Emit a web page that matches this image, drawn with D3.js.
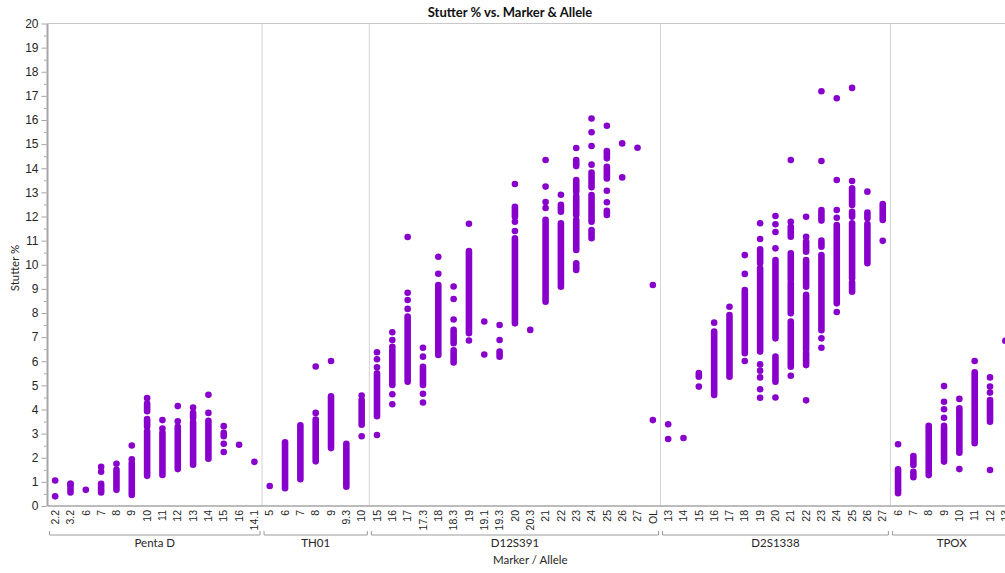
<!DOCTYPE html>
<html>
<head>
<meta charset="utf-8">
<script src="https://cdn.jsdelivr.net/npm/d3@7"></script>
<style>
  html, body { margin: 0; padding: 0; background: #fff; overflow: hidden; }
  svg { display: block; font-family: "Lato", "Liberation Sans", sans-serif; }
</style>
</head>
<body>
<svg id="chart" width="1005" height="573"></svg>
<script>
// ---------------- DATA ----------------
const markers = ["Penta D", "TH01", "D12S391", "D2S1338", "TPOX"];

const pentaDAlleles = ["2.2","3.2","6","7","8","9","10","11","12","13","14","15","16","14.1"];
const pentaDDots = [[1.06,0.40],[0.92],[0.67],[1.62,1.42],[1.75],[2.51,1.94],[4.47],[3.56,3.21],[4.14,3.51],[4.08],[4.61,3.86],[3.31,2.58,2.24],[2.54],[1.83]];
const pentaDRuns = [[],[[0.56,0.92]],[],[[0.56,0.92]],[[0.67,1.50]],[[0.46,1.78]],[[3.93,4.25],[3.30,3.60],[1.25,3.10]],[[1.29,3.03]],[[1.53,3.28]],[[3.65,3.86],[1.71,3.47]],[[1.96,3.53]],[[2.89,3.03]],[],[]];

const th01Alleles = ["5","6","7","8","9","9.3","10"];
const th01Dots = [[0.83],[],[],[5.78,3.86],[6.01],[],[4.58,2.89]];
const th01Runs = [[],[[0.74,2.64]],[[1.11,3.35]],[[1.85,3.58]],[[2.40,4.55]],[[0.80,2.58]],[[3.37,4.39]]];

const d12Alleles = ["15","16","17","17.3","18","18.3","19","19.1","19.3","20","20.3","21","22","23","24","25","26","27","OL"];
const d12Dots = [[6.37,6.08,5.75,2.94],[7.20,6.88,6.60,4.63,4.22],[11.15,8.84,8.54,8.17],[6.56,6.19,4.65,4.29],[10.33,9.63],[9.10,8.58,7.73],[11.70,6.86],[7.65,6.28],[7.50,6.88],[13.35,11.78,11.40],[7.30],[14.34,13.24,12.60,12.35],[12.90],[14.84],[16.06,15.49,14.92,14.15],[15.76,13.07,12.59],[15.03,13.62],[14.85],[9.16,3.56]];
const d12Runs = [[[3.72,5.50]],[[5.02,6.47]],[[5.15,7.85]],[[5.02,5.77]],[[6.26,9.16]],[[6.75,7.30],[5.95,6.45]],[[7.16,10.57]],[],[[6.19,6.40]],[[11.99,12.40],[7.57,11.10]],[],[[8.47,11.86]],[[12.20,12.48],[9.09,11.72]],[[14.09,14.34],[13.03,13.51],[12.06,12.85],[10.61,11.86],[9.78,10.06]],[[13.21,13.82],[11.78,12.89],[11.10,11.44]],[[14.41,14.71],[13.58,14.06],[12.06,12.24]],[],[],[]];

const d2Alleles = ["13","14","15","16","17","18","19","20","21","22","23","24","25","26","27"];
const d2Dots = [[3.39,2.78],[2.82],[4.95],[7.60],[8.26],[10.40,9.62,6.01],[11.72,11.07,5.87,5.61,5.33,4.84,4.49],[12.02,11.68,11.36,10.68,4.50],[14.34,11.78,5.40],[11.99,11.16,4.38],[17.19,14.30,6.95,6.56],[16.90,13.51,12.27,11.95,8.04],[17.33,13.47],[13.03],[10.99]];
const d2Runs = [[],[],[[5.36,5.51]],[[4.60,7.23]],[[5.36,7.92]],[[6.33,8.95]],[[10.06,10.64],[6.40,9.85]],[[6.95,10.20],[5.15,6.19]],[[11.16,11.57],[9.37,10.47],[7.99,9.23],[5.77,7.65]],[[10.54,10.96],[9.09,10.20],[6.47,8.75],[5.84,6.33]],[[11.83,12.27],[10.75,11.00],[7.29,10.40]],[[8.40,11.65]],[[12.48,13.17],[11.99,12.20],[9.44,11.72],[8.88,9.26]],[[11.93,12.16],[10.06,11.69]],[[11.86,12.52]]];

const tpoxAlleles = ["6","7","8","9","10","11","12","13"];
const tpoxDots = [[2.56],[],[],[4.97,4.32,4.01,3.66],[4.44,1.53],[6.01],[5.33,4.95,4.70,1.49],[6.85]];
const tpoxRuns = [[[0.53,1.52]],[[1.70,2.07],[1.19,1.42]],[[1.28,3.32]],[[1.84,3.32]],[[2.21,4.05]],[[2.60,5.54]],[[3.49,4.39]],[]];

const yTicks = d3.range(0, 21);
const yMinorTicks = d3.range(0.5, 20, 1);

// ---------------- BUILD ----------------
const groups = [
  {name: markers[0], alleles: pentaDAlleles, dots: pentaDDots, runs: pentaDRuns},
  {name: markers[1], alleles: th01Alleles, dots: th01Dots, runs: th01Runs},
  {name: markers[2], alleles: d12Alleles, dots: d12Dots, runs: d12Runs},
  {name: markers[3], alleles: d2Alleles, dots: d2Dots, runs: d2Runs},
  {name: markers[4], alleles: tpoxAlleles, dots: tpoxDots, runs: tpoxRuns}
];
const keys = [];
const points = [];
const segs = [];
groups.forEach(g => {
  g.alleles.forEach((a, i) => {
    const k = g.name + "|" + a;
    keys.push(k);
    g.dots[i].forEach(v => points.push({k, v}));
    g.runs[i].forEach(r => segs.push({k, lo: r[0], hi: r[1]}));
  });
});

const svg = d3.select("#chart");
const pTop = 23.5, pBottom = 506, pLeft = 47.5, pRight = 1013;
const x = d3.scaleBand().domain(keys).range([pLeft, pRight]).padding(0);
const y = d3.scaleLinear().domain([0, 20]).range([pBottom, pTop]);
const color = "#8800cc";
const rad = 3.3;
const axisColor = "#a6a6a6";
const textColor = "#262626";

// separators
const bounds = groups.slice(1).map(g => x(g.name + "|" + g.alleles[0]));
svg.append("g").selectAll("line").data(bounds).join("line")
  .attr("x1", d => d).attr("x2", d => d).attr("y1", pTop).attr("y2", pBottom)
  .attr("stroke", "#d3d3d3").attr("stroke-width", 1);

// top border
svg.append("line").attr("x1", pLeft).attr("x2", pRight).attr("y1", pTop).attr("y2", pTop)
  .attr("stroke", "#c8c8c8");

// marks
const marks = svg.append("g");
marks.selectAll("line").data(segs).join("line")
  .attr("x1", d => x(d.k) + x.bandwidth() / 2).attr("x2", d => x(d.k) + x.bandwidth() / 2)
  .attr("y1", d => y(d.lo)).attr("y2", d => y(d.hi))
  .attr("stroke", color).attr("stroke-width", 2 * rad).attr("stroke-linecap", "round");
marks.selectAll("circle").data(points).join("circle")
  .attr("cx", d => x(d.k) + x.bandwidth() / 2).attr("cy", d => y(d.v)).attr("r", rad)
  .attr("fill", color);

// y axis
const yAxis = svg.append("g").attr("transform", `translate(${pLeft - 1},0)`)
  .call(d3.axisLeft(y).tickValues(yTicks).tickSize(5).tickPadding(3).tickFormat(d3.format("d")));
yAxis.select(".domain").remove();
yAxis.selectAll("line").attr("stroke", axisColor);
yAxis.selectAll("text").attr("fill", textColor).style("font-size", "12px");
const yMinor = svg.append("g").attr("transform", `translate(${pLeft - 1},0)`)
  .call(d3.axisLeft(y).tickValues(yMinorTicks).tickSize(2.5).tickFormat(""));
yMinor.select(".domain").remove();
yMinor.selectAll("line").attr("stroke", axisColor);
svg.append("line").attr("x1", pLeft).attr("x2", pLeft).attr("y1", pTop).attr("y2", pBottom)
  .attr("stroke", axisColor).attr("stroke-width", 2);

// x axis
const xAxis = svg.append("g").attr("transform", `translate(0,${pBottom})`)
  .call(d3.axisBottom(x).tickSize(0).tickFormat(d => d.split("|")[1]));
xAxis.select(".domain").remove();
xAxis.selectAll("text")
  .attr("transform", "rotate(-90)")
  .attr("x", -4).attr("y", 0).attr("dy", "0.35em")
  .attr("text-anchor", "end")
  .attr("fill", textColor).style("font-size", "10.5px");
svg.append("line").attr("x1", pLeft).attr("x2", pRight).attr("y1", pBottom).attr("y2", pBottom)
  .attr("stroke", axisColor).attr("stroke-width", 1.5);

// group brackets
const gb = svg.append("g");
groups.forEach(g => {
  const x0 = x(g.name + "|" + g.alleles[0]) + 2;
  const x1 = x(g.name + "|" + g.alleles[g.alleles.length - 1]) + x.bandwidth() - 2;
  gb.append("path").attr("d", `M${x0},531V535H${x1}V531`)
    .attr("fill", "none").attr("stroke", "#9a9a9a");
  gb.append("text").attr("x", (x0 + x1) / 2).attr("y", 547)
    .attr("text-anchor", "middle").attr("fill", textColor).style("font-size", "11.5px")
    .text(g.name);
});

// titles
svg.append("text").attr("x", 510).attr("y", 17).attr("text-anchor", "middle")
  .style("font-size", "13px").style("font-weight", "bold").attr("fill", "#111")
  .text("Stutter % vs. Marker & Allele");
svg.append("text").attr("x", (pLeft + pRight) / 2).attr("y", 564).attr("text-anchor", "middle")
  .style("font-size", "11.5px").attr("fill", textColor).text("Marker / Allele");
svg.append("text").attr("transform", "translate(19,268) rotate(-90)").attr("text-anchor", "middle")
  .style("font-size", "11.5px").attr("fill", textColor).text("Stutter %");
</script>
</body>
</html>
